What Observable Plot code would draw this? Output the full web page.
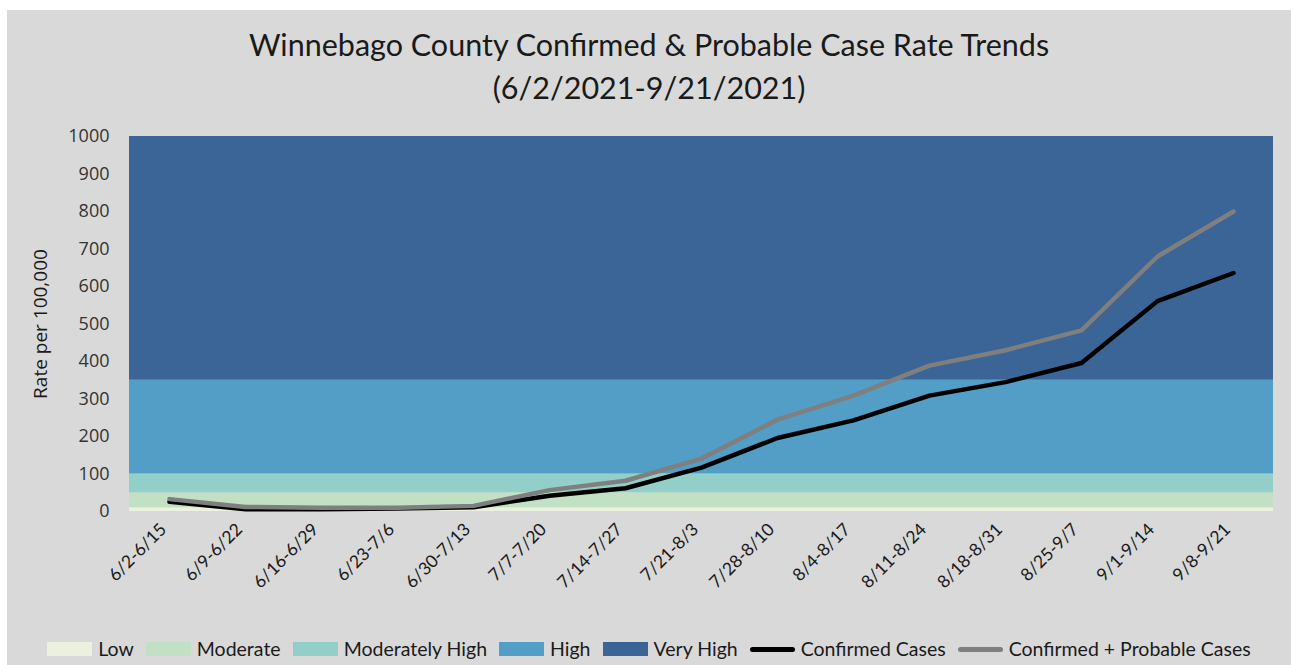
<!DOCTYPE html>
<html>
<head>
<meta charset="utf-8">
<script src="https://cdn.jsdelivr.net/npm/d3@7"></script>
<script src="https://cdn.jsdelivr.net/npm/@observablehq/plot@0.6"></script>
<style>
  html, body { margin: 0; padding: 0; background: #ffffff; }
  #frame { position: absolute; left: 7px; top: 10px; width: 1284px; height: 655px; background: #d9d9d9; overflow: hidden; }
  #title { position: absolute; left: 0; top: 13px; width: 1284px; text-align: center; font-family: Lato, sans-serif; font-size: 30.5px; line-height: 43px; color: #1a1a1a; }
  #chart { position: absolute; left: 0; top: 110px; }
  #legend { position: absolute; left: 0; top: 627px; height: 24px; width: 1284px; display: flex; justify-content: center; align-items: center; font-family: Lato, sans-serif; font-size: 19.5px; line-height: 24px; color: #1a1a1a; }
  .item { display: flex; align-items: center; margin: 0 6px; }
  .sw { display: inline-block; width: 45px; height: 14px; margin-right: 6px; }
  .ln { display: inline-block; width: 45px; height: 5px; margin-right: 6px; border-radius: 2.5px; }
  g[aria-label="y-axis tick label"] text { font-family: 'Open Sans', sans-serif !important; font-size: 18px !important; fill: #333333; }
  g[aria-label="y-axis label"] text { font-family: 'Open Sans', sans-serif !important; font-size: 19px !important; fill: #1a1a1a; }
  g[aria-label="x-axis tick label"] text { font-family: Lato, sans-serif !important; font-size: 17.5px !important; fill: #1a1a1a; }
</style>
</head>
<body>
<div id="frame">
  <div id="title">Winnebago County Confirmed &amp; Probable Case Rate Trends<br>(6/2/2021-9/21/2021)</div>
  <div id="chart"></div>
  <div id="legend"></div>
</div>
<script>
const periods = ["6/2-6/15","6/9-6/22","6/16-6/29","6/23-7/6","6/30-7/13","7/7-7/20","7/14-7/27","7/21-8/3","7/28-8/10","8/4-8/17","8/11-8/24","8/18-8/31","8/25-9/7","9/1-9/14","9/8-9/21"];
const confirmed = [26, 6, 6, 8, 11, 42, 62, 117, 196, 243, 309, 345, 396, 561, 636];
const confirmedProbable = [33, 12, 10, 10, 15, 57, 82, 141, 245, 309, 389, 430, 483, 680, 800];

const bandNames = ["Low", "Moderate", "Moderately High", "High", "Very High"];
const bandLow = [0, 10, 50, 100, 350];
const bandHigh = [10, 50, 100, 350, 1000];
const bandColors = ["#ebf1de", "#c2e1c4", "#92cfc8", "#529ec6", "#3b6596"];

const seriesNames = ["Confirmed Cases", "Confirmed + Probable Cases"];
const seriesColors = ["#000000", "#7f7f7f"];

const yTicks = [0, 100, 200, 300, 400, 500, 600, 700, 800, 900, 1000];

const bands = bandNames.map((name, i) => ({name, lo: bandLow[i], hi: bandHigh[i]}));
const rows = [];
periods.forEach((p, i) => rows.push({period: p, series: seriesNames[0], value: confirmed[i]}));
periods.forEach((p, i) => rows.push({period: p, series: seriesNames[1], value: confirmedProbable[i]}));

const chart = Plot.plot({
  width: 1284,
  height: 505,
  marginLeft: 122,
  marginRight: 18,
  marginTop: 16,
  marginBottom: 114,
  style: {background: "transparent", fontFamily: "Lato, sans-serif"},
  x: {type: "point", domain: periods, padding: 0.5, label: null},
  y: {domain: [0, 1000], label: null},
  color: {domain: bandNames.concat(seriesNames), range: bandColors.concat(seriesColors)},
  marks: [
    Plot.rect(bands, {y1: "lo", y2: "hi", fill: "name"}),
    Plot.line(rows, {x: "period", y: "value", z: "series", stroke: "series", strokeWidth: 4.5, strokeLinejoin: "round", strokeLinecap: "round"}),
    Plot.axisX({tickSize: 0, tickRotate: -45, tickPadding: 10, dx: -6, dy: 5, label: null}),
    Plot.axisY({ticks: yTicks, tickFormat: d => String(d), tickSize: 0, tickPadding: 20, label: "Rate per 100,000", labelAnchor: "center", labelArrow: "none", labelOffset: 96})
  ]
});
document.getElementById("chart").appendChild(chart);

const legend = document.getElementById("legend");
bandNames.forEach((n, i) => {
  const it = document.createElement("div"); it.className = "item";
  it.innerHTML = `<span class="sw" style="background:${bandColors[i]}"></span>${n}`;
  legend.appendChild(it);
});
seriesNames.forEach((n, i) => {
  const it = document.createElement("div"); it.className = "item";
  it.innerHTML = `<span class="ln" style="background:${seriesColors[i]}"></span>${n}`;
  legend.appendChild(it);
});
</script>
</body>
</html>
